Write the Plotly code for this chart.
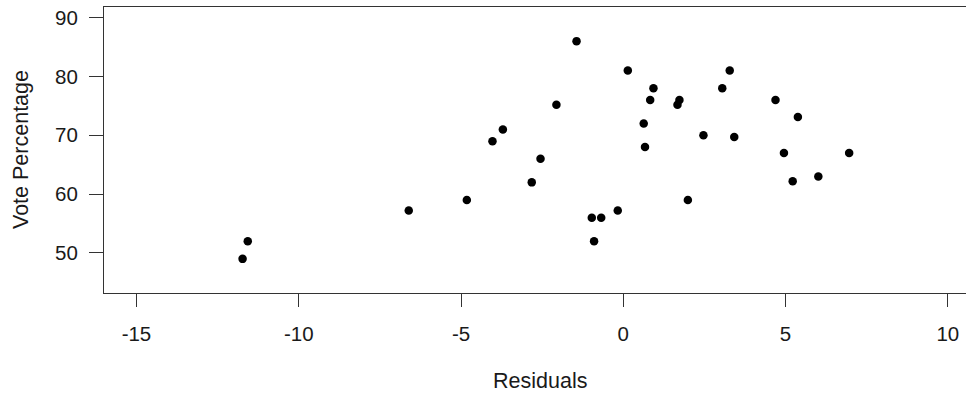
import plotly.graph_objects as go

# Data
residuals = [-11.73, -11.57, -6.61, -4.82, -4.03, -3.71, -2.82, -2.55, -2.06, -1.44,
             -0.97, -0.68, -0.90, -0.17, 0.14, 0.93, 0.83, 0.63, 0.67,
             1.67, 1.73, 1.99, 2.47, 3.05, 3.28, 3.42, 4.69, 5.38, 4.95, 5.22, 6.01, 6.96]
vote_pct = [49, 52, 57.2, 59, 69, 71, 62, 66, 75.2, 86,
            56, 56, 52, 57.2, 81, 78, 76, 72, 68,
            75.2, 76, 59, 70, 78, 81, 69.7, 76, 73.1, 67, 62.2, 63, 67]
x_ticks = [-15, -10, -5, 0, 5, 10]
y_ticks = [50, 60, 70, 80, 90]
x_label = "Residuals"
y_label = "Vote Percentage"

font_family = "Liberation Sans, Arial, sans-serif"
line_col = "#333333"
text_col = "#1a1a1a"

fig = go.Figure()
fig.add_trace(go.Scatter(
    x=residuals, y=vote_pct, mode="markers",
    marker=dict(color="black", size=8.5, line=dict(width=0)),
    showlegend=False, hoverinfo="x+y",
))

fig.update_layout(
    width=966, height=396,
    margin=dict(l=104, r=0, t=7, b=103),
    paper_bgcolor="white", plot_bgcolor="white",
    font=dict(family=font_family, size=20, color=text_col),
    xaxis=dict(
        range=[-16, 10.56], tickmode="array", tickvals=x_ticks,
        ticktext=[str(v) for v in x_ticks],
        showgrid=False, zeroline=False,
        showline=True, mirror=True, linecolor=line_col, linewidth=1,
        ticks="outside", ticklen=13, tickwidth=1, tickcolor=line_col,
        ticklabelstandoff=9,
        tickfont=dict(size=20.5, family=font_family, color=text_col),
    ),
    yaxis=dict(
        range=[43.2, 91.8], tickmode="array", tickvals=y_ticks,
        ticktext=[str(v) for v in y_ticks],
        showgrid=False, zeroline=False,
        showline=True, mirror=False, linecolor=line_col, linewidth=1,
        ticks="outside", ticklen=14, tickwidth=1, tickcolor=line_col,
        ticklabelstandoff=7,
        tickfont=dict(size=20.5, family=font_family, color=text_col),
    ),
    annotations=[
        dict(text=x_label, xref="paper", yref="paper",
             x=(540 - 104) / 862, y=(293 - 381) / 286,
             xanchor="center", yanchor="middle", showarrow=False,
             font=dict(size=21.5, family=font_family, color=text_col)),
        dict(text=y_label, xref="paper", yref="paper",
             x=(21 - 104) / 862, y=0.5, textangle=-90,
             xanchor="center", yanchor="middle", showarrow=False,
             font=dict(size=21.5, family=font_family, color=text_col)),
    ],
)

fig.write_html(
    "out.html",
    config={"displayModeBar": False},
    post_script="document.body.style.margin='0';document.body.style.overflow='hidden';",
)
